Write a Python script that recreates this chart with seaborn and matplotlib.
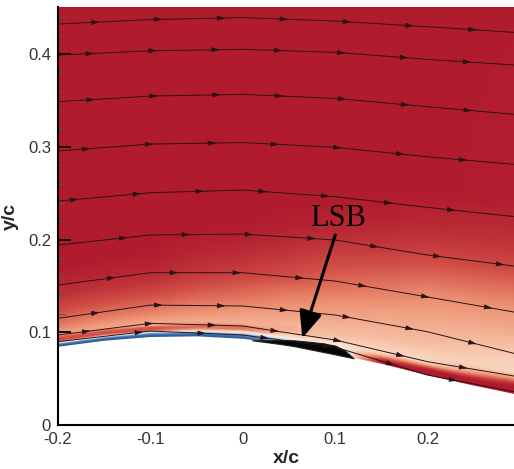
import numpy as np
import pandas as pd
import matplotlib
matplotlib.use("Agg")
import matplotlib.pyplot as plt
from matplotlib.ticker import MultipleLocator
import seaborn as sns

# ---- airfoil upper surface (x/c, y/c) ----
surf_x = [-0.2, -0.15, -0.1, -0.05, 0.0, 0.05, 0.1, 0.15, 0.2, 0.25, 0.2935]
surf_y = [0.085, 0.0915, 0.0955, 0.0962, 0.0935, 0.087, 0.077, 0.0665, 0.054, 0.043, 0.034]

# ---- velocity-magnitude table: rows = wall distance, columns = x stations ----
field_x = [-0.2, -0.1, 0.0, 0.05, 0.1, 0.15, 0.2, 0.2935]
wall_d = [0.0, 0.002, 0.004, 0.006, 0.009, 0.012, 0.016, 0.022, 0.03, 0.04,
          0.055, 0.07, 0.09, 0.11, 0.13, 0.16, 0.2, 0.5]
field_v = [
    [0.02, 0.02, 0.03, 0.12, 0.18, 1.00, 1.00, 1.00],
    [0.08, 0.06, 0.06, 0.16, 0.20, 1.00, 1.00, 1.00],
    [0.60, 0.25, 0.14, 0.22, 0.25, 0.92, 1.00, 1.00],
    [0.86, 0.80, 0.35, 0.35, 0.32, 0.75, 0.96, 1.00],
    [0.82, 0.84, 0.72, 0.48, 0.36, 0.55, 0.72, 0.98],
    [0.64, 0.60, 0.76, 0.55, 0.45, 0.47, 0.50, 0.86],
    [0.66, 0.62, 0.58, 0.60, 0.52, 0.50, 0.47, 0.64],
    [0.72, 0.68, 0.62, 0.58, 0.56, 0.53, 0.50, 0.48],
    [0.78, 0.74, 0.66, 0.62, 0.58, 0.56, 0.54, 0.48],
    [0.85, 0.81, 0.72, 0.66, 0.62, 0.59, 0.57, 0.51],
    [0.93, 0.90, 0.80, 0.73, 0.67, 0.63, 0.60, 0.56],
    [0.97, 0.96, 0.88, 0.82, 0.74, 0.69, 0.64, 0.61],
    [1.00, 0.99, 0.94, 0.89, 0.82, 0.77, 0.70, 0.66],
    [1.00, 1.00, 0.98, 0.95, 0.89, 0.85, 0.79, 0.74],
    [1.00, 1.00, 1.00, 0.98, 0.95, 0.92, 0.87, 0.83],
    [1.00, 1.00, 1.00, 1.00, 0.99, 0.98, 0.95, 0.92],
    [1.00, 1.00, 1.00, 1.00, 1.00, 1.00, 1.00, 0.98],
    [1.00, 1.00, 1.00, 1.00, 1.00, 1.00, 1.00, 1.00],
]

# ---- laminar separation bubble thickness along the wall ----
lsb_x = [0.01, 0.025, 0.04, 0.055, 0.07, 0.085, 0.1, 0.11, 0.12]
lsb_h = [0.0, 0.002, 0.004, 0.0062, 0.0078, 0.0092, 0.0095, 0.0065, 0.0]

# ---- streamlines: y/c at fixed x stations ----
stream_x = [-0.2, -0.1, 0.0, 0.1, 0.2, 0.2935]
streamlines = {
    "A": [0.4326, 0.4374, 0.4396, 0.4358, 0.4297, 0.4236],
    "B": [0.3991, 0.4038, 0.4053, 0.4021, 0.3945, 0.3884],
    "C": [0.3488, 0.3549, 0.3567, 0.3524, 0.3434, 0.3352],
    "D": [0.2956, 0.3031, 0.3047, 0.2996, 0.2894, 0.2812],
    "E": [0.2416, 0.2506, 0.2535, 0.2463, 0.2348, 0.2249],
    "F": [0.1942, 0.2050, 0.2060, 0.1996, 0.1834, 0.1715],
    "G": [0.1510, 0.1643, 0.1643, 0.1553, 0.1381, 0.1219],
    "H": [0.1151, 0.1294, 0.1284, 0.1187, 0.1006, 0.0773],
    "I": [0.0971, 0.1097, 0.1068, 0.0917, 0.0683, 0.0529],
    "J": [0.0899, 0.1014, 0.0971, 0.0840, 0.0539, 0.0359],
}
arrow_start = {"A": -0.157, "B": -0.163, "C": -0.162, "D": -0.167, "E": -0.180,
               "F": -0.127, "G": -0.140, "H": -0.157, "I": -0.167, "J": -0.110}
arrow_step = 0.068

x_ticks = [-0.2, -0.1, 0.0, 0.1, 0.2]
x_tick_labels = ["-0.2", "-0.1", "0", "0.1", "0.2"]
y_ticks = [0.0, 0.1, 0.2, 0.3, 0.4]
y_tick_labels = ["0", "0.1", "0.2", "0.3", "0.4"]

sns.set_theme(style="ticks")
plt.rcParams["font.family"] = ["Liberation Sans", "DejaVu Sans"]

cmap = sns.blend_palette(["#1f4f8f", "#8fb9db", "#f6f3f1", "#f9d0b8",
                          "#ee9474", "#d24f47", "#b01b2e"], as_cmap=True)

fig = plt.figure(figsize=(5.14, 4.69), dpi=100)
ax = fig.add_axes([0.1128, 0.0938, 0.8872, 0.8913])
xlim = (-0.2, 0.2935)
ylim = (0.0, 0.451)

# ---- contour field on a regular grid ----
gx = np.linspace(xlim[0], xlim[1], 700)
gy = np.linspace(ylim[0], ylim[1], 640)
table = np.array(field_v)
table_cols = np.array([np.interp(gx, field_x, row) for row in table])  # (nd, nx)
wall = np.interp(gx, surf_x, surf_y)
V = np.empty((gy.size, gx.size))
for j in range(gx.size):
    V[:, j] = np.interp(gy - wall[j], wall_d, table_cols[:, j])
ax.imshow(V, extent=(xlim[0], xlim[1], ylim[0], ylim[1]), origin="lower",
          cmap=cmap, vmin=0, vmax=1, aspect="auto", interpolation="bilinear", zorder=0)

# airfoil body
ax.fill_between(surf_x, 0, surf_y, color="white", lw=0, zorder=1)

# separation bubble (dense recirculating streamlines)
lsb_base = np.interp(lsb_x, surf_x, surf_y) - 0.0008
ax.fill_between(lsb_x, lsb_base, lsb_base + np.array(lsb_h), color="#050505",
                lw=0.8, edgecolor="#202020", zorder=2)

# ---- streamlines ----
rows = []
for name, ys in streamlines.items():
    for xv, yv in zip(stream_x, ys):
        rows.append({"line": name, "x": xv, "y": yv})
df = pd.DataFrame(rows)
sns.lineplot(data=df, x="x", y="y", units="line", estimator=None, sort=False,
             color="#2a1216", lw=0.7, ax=ax, zorder=3, legend=False)

for name, ys in streamlines.items():
    xa = arrow_start[name]
    while xa < xlim[1] - 0.01:
        x0, x1 = xa - 0.006, xa + 0.002
        y0, y1 = np.interp(x0, stream_x, ys), np.interp(x1, stream_x, ys)
        ax.annotate("", xy=(x1, y1), xytext=(x0, y0),
                    arrowprops=dict(arrowstyle="-|>,head_length=0.7,head_width=0.22",
                                    color="#2a1216", lw=0.5, mutation_scale=7,
                                    shrinkA=0, shrinkB=0), zorder=4)
        xa += arrow_step

# ---- LSB label ----
ax.annotate("", xy=(0.0644, 0.0938), xytext=(0.1001, 0.205),
            arrowprops=dict(arrowstyle="-|>,head_length=0.75,head_width=0.32",
                            color="black", lw=2.2, mutation_scale=22,
                            shrinkA=0, shrinkB=0), zorder=5)
ax.text(0.1034, 0.2233, "LSB", family=["Liberation Serif", "DejaVu Serif"],
        fontsize=22, ha="center", va="center", color="black", zorder=5)

# ---- axes ----
ax.set_xlim(*xlim)
ax.set_ylim(*ylim)
ax.set_xticks(x_ticks)
ax.set_xticklabels(x_tick_labels)
ax.set_yticks(y_ticks)
ax.set_yticklabels(y_tick_labels)
ax.xaxis.set_minor_locator(MultipleLocator(0.02))
ax.yaxis.set_minor_locator(MultipleLocator(0.02))
ax.tick_params(which="major", direction="in", length=9, width=1.3, color="black",
               labelsize=12, labelcolor="#333333", pad=5)
ax.tick_params(which="minor", direction="in", length=5, width=0.8, color="#555555")
ax.set_xlabel("x/c", fontsize=14, fontweight="bold", labelpad=2)
ax.set_ylabel("y/c", fontsize=14, fontweight="bold")
ax.yaxis.set_label_coords(-0.085, 0.5)
for side in ("top", "right"):
    ax.spines[side].set_visible(False)
for side in ("left", "bottom"):
    ax.spines[side].set_linewidth(1.5)
    ax.spines[side].set_color("black")
    ax.spines[side].set_zorder(6)

fig.savefig("out.png", dpi=100)
